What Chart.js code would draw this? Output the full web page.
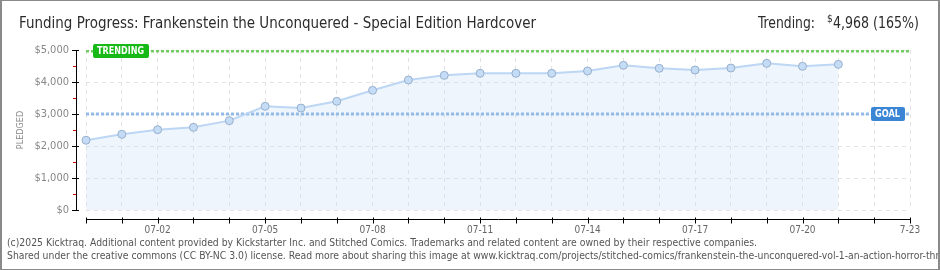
<!DOCTYPE html>
<html>
<head>
<meta charset="utf-8">
<script src="https://cdn.jsdelivr.net/npm/chart.js@4.4.1/dist/chart.umd.min.js"></script>
<style>
  html, body { margin: 0; padding: 0; background: #fff; }
  canvas { display: block; }
</style>
</head>
<body>
<canvas id="chart" width="940" height="270"></canvas>
<script>
// Kicktraq-style funding progress chart

const dayLabels = [
  "06-30", "07-01", "07-02", "07-03", "07-04", "07-05", "07-06", "07-07",
  "07-08", "07-09", "07-10", "07-11", "07-12", "07-13", "07-14", "07-15",
  "07-16", "07-17", "07-18", "07-19", "07-20", "07-21", "07-22", "07-23"
];
const pledged = [
  2180, 2365, 2510, 2583, 2792, 3240, 3187, 3396, 3740, 4062, 4208,
  4271, 4271, 4271, 4344, 4521, 4427, 4375, 4437, 4583, 4490, 4552
];
const goal = 3000;
const trending = 4968;
const xTickDays = ["07-02", "07-05", "07-08", "07-11", "07-14", "07-17", "07-20", "07-23"];
const xTickText = ["07-02", "07-05", "07-08", "07-11", "07-14", "07-17", "07-20", "7-23"];

const titleText = "Funding Progress: Frankenstein the Unconquered - Special Edition Hardcover";
const footer1 = "(c)2025 Kicktraq. Additional content provided by Kickstarter Inc. and Stitched Comics. Trademarks and related content are owned by their respective companies.";
const footer2 = "Shared under the creative commons (CC BY-NC 3.0) license. Read more about sharing this image at www.kicktraq.com/projects/stitched-comics/frankenstein-the-unconquered-vol-1-an-action-horror-thriller/";

const FONT = "'DejaVu Sans Condensed', 'DejaVu Sans', sans-serif";

// draw text squeezed to a target width
function fitText(ctx, text, x, y, width) {
  const w = ctx.measureText(text).width;
  ctx.save();
  ctx.translate(x, y);
  ctx.scale(width / w, 1);
  ctx.fillText(text, 0, 0);
  ctx.restore();
  return width / w;
}

function roundBox(ctx, x, y, w, h, r, color) {
  ctx.fillStyle = color;
  ctx.beginPath();
  ctx.roundRect(x, y, w, h, r);
  ctx.fill();
}

const decorPlugin = {
  id: "decor",
  beforeDraw(chart) {
    const ctx = chart.ctx;
    ctx.save();
    ctx.fillStyle = "#fff";
    ctx.fillRect(0, 0, chart.width, chart.height);
    ctx.restore();
  },
  afterDatasetsDraw(chart) {
    const ctx = chart.ctx;
    const area = chart.chartArea;
    const y = chart.scales.y;

    // TRENDING tag
    const ty = y.getPixelForValue(trending);
    roundBox(ctx, area.left + 7, ty - 7, 56, 14, 2, "#17b917");
    ctx.save();
    ctx.fillStyle = "#fff";
    ctx.font = "bold 10px " + FONT;
    ctx.textBaseline = "middle";
    fitText(ctx, "TRENDING", area.left + 11, ty + 0.5, 47);
    ctx.restore();

    // GOAL tag
    const gy = y.getPixelForValue(goal);
    roundBox(ctx, area.right - 39, gy - 7, 34, 14, 2, "#3a86d5");
    ctx.save();
    ctx.fillStyle = "#fff";
    ctx.font = "bold 10px " + FONT;
    ctx.textBaseline = "middle";
    fitText(ctx, "GOAL", area.right - 35, gy + 0.5, 25);
    ctx.restore();
  },
  afterDraw(chart) {
    const ctx = chart.ctx;
    const area = chart.chartArea;
    const x = chart.scales.x;
    const y = chart.scales.y;
    ctx.save();

    // y axis line with ticks
    const ax = area.left - 10;
    ctx.strokeStyle = "#000";
    ctx.lineWidth = 1;
    ctx.beginPath();
    ctx.moveTo(ax + 0.5, y.getPixelForValue(5000));
    ctx.lineTo(ax + 0.5, y.getPixelForValue(0) + 1);
    ctx.stroke();
    for (let v = 0; v <= 5000; v += 1000) {
      const py = Math.round(y.getPixelForValue(v)) + 0.5;
      ctx.beginPath();
      ctx.moveTo(ax - 4, py);
      ctx.lineTo(ax + 3, py);
      ctx.stroke();
    }
    ctx.strokeStyle = "#d00";
    for (let v = 500; v < 5000; v += 1000) {
      const py = Math.round(y.getPixelForValue(v)) + 0.5;
      ctx.beginPath();
      ctx.moveTo(ax - 3, py);
      ctx.lineTo(ax, py);
      ctx.stroke();
    }

    // x axis line with ticks
    const ay = Math.round(area.bottom) + 9.5;
    ctx.strokeStyle = "#000";
    ctx.beginPath();
    ctx.moveTo(x.getPixelForValue(0), ay);
    ctx.lineTo(x.getPixelForValue(dayLabels.length - 1) + 1, ay);
    ctx.stroke();
    dayLabels.forEach((d, i) => {
      const px = Math.round(x.getPixelForValue(i)) + 0.5;
      ctx.beginPath();
      ctx.moveTo(px, ay - 2);
      ctx.lineTo(px, ay + 4);
      ctx.stroke();
    });

    // axis title
    ctx.fillStyle = "#888";
    ctx.font = "9px " + FONT;
    ctx.textAlign = "center";
    ctx.textBaseline = "middle";
    ctx.translate(21, (area.top + area.bottom) / 2);
    ctx.rotate(-Math.PI / 2);
    ctx.fillText("PLEDGED", 0, 0);
    ctx.setTransform(1, 0, 0, 1, 0, 0);

    // title
    ctx.textAlign = "left";
    ctx.textBaseline = "alphabetic";
    ctx.fillStyle = "#2c2c2c";
    ctx.font = "15px " + FONT;
    fitText(ctx, titleText, 19, 28, 517);

    // trending text on right
    fitText(ctx, "Trending:", 758, 28, 57);
    ctx.font = "10px " + FONT;
    ctx.fillText("$", 827, 22);
    ctx.font = "15px " + FONT;
    fitText(ctx, "4,968 (165%)", 833, 28, 86);

    // footer
    ctx.fillStyle = "#555";
    ctx.font = "10px " + FONT;
    const k = fitText(ctx, footer1, 7, 246, 750);
    ctx.save();
    ctx.translate(7, 259);
    ctx.scale(k, 1);
    ctx.fillText(footer2, 0, 0);
    ctx.restore();

    // outer frame
    ctx.strokeStyle = "#8a8a8a";
    ctx.lineWidth = 2;
    ctx.strokeRect(1, 0, chart.width - 2, chart.height);
    ctx.restore();
  }
};

const ctx = document.getElementById("chart").getContext("2d");

new Chart(ctx, {
  type: "line",
  data: {
    labels: dayLabels,
    datasets: [
      {
        label: "Pledged",
        data: pledged,
        borderColor: "#bcd6f3",
        borderWidth: 2,
        backgroundColor: "rgba(200, 222, 250, 0.3)",
        fill: "origin",
        tension: 0,
        pointRadius: 4,
        pointBackgroundColor: "#c5dcf6",
        pointBorderColor: "#98b0cc",
        pointBorderWidth: 1,
        order: 0
      },
      {
        label: "Goal",
        data: dayLabels.map(() => goal),
        borderColor: "#94bbe8",
        borderWidth: 3,
        borderDash: [3, 2],
        pointRadius: 0,
        fill: false,
        order: 1
      },
      {
        label: "Trending",
        data: dayLabels.map(() => trending),
        borderColor: "#72cc62",
        borderWidth: 3,
        borderDash: [3, 2],
        pointRadius: 0,
        fill: false,
        order: 2
      }
    ]
  },
  options: {
    responsive: false,
    animation: false,
    devicePixelRatio: 1,
    layout: { padding: { left: 0, top: 50, right: 30, bottom: 0 } },
    plugins: {
      legend: { display: false },
      tooltip: { enabled: false },
      filler: { drawTime: "beforeDatasetsDraw" }
    },
    scales: {
      x: {
        offset: false,
        afterFit: (s) => { s.height = 60; },
        grid: { color: "#e2e2e2", drawTicks: false },
        border: { display: false, dash: [4, 4] },
        ticks: {
          autoSkip: false,
          maxRotation: 0,
          padding: 14,
          color: "#666",
          font: { family: FONT, size: 10 },
          callback: function (val, idx) {
            const k = xTickDays.indexOf(dayLabels[idx]);
            return k >= 0 ? xTickText[k] : "";
          }
        }
      },
      y: {
        min: 0,
        max: 5000,
        afterFit: (s) => { s.width = 86; },
        grid: { color: "#e2e2e2", drawTicks: false },
        border: { display: false, dash: [4, 4] },
        ticks: {
          stepSize: 1000,
          padding: 17,
          color: "#888",
          font: { family: FONT, size: 11 },
          callback: (v) => "$" + v.toLocaleString("en-US")
        }
      }
    }
  },
  plugins: [decorPlugin]
});
</script>
</body>
</html>
